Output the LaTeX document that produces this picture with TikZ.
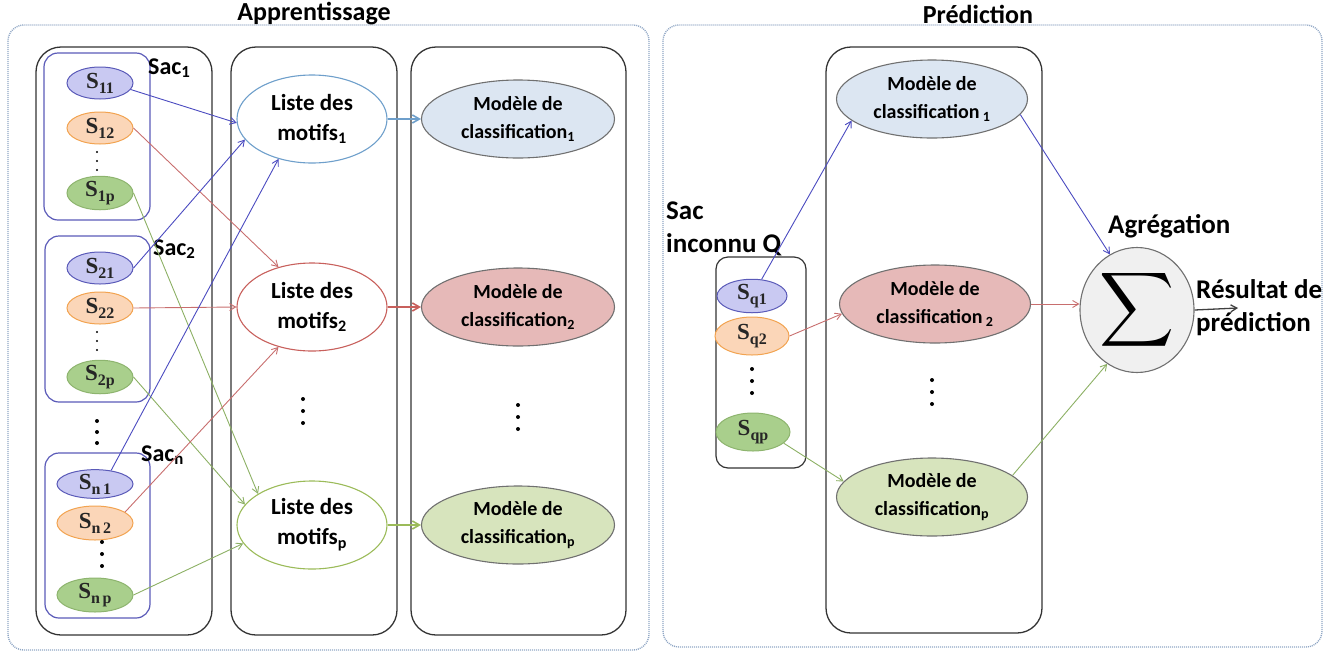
\documentclass[tikz,border=0pt]{standalone}
\usepackage{fontspec}
\setmainfont{Carlito}
\newfontfamily\serfont{Liberation Serif}
\usepackage{graphicx}
\usetikzlibrary{shapes.geometric,arrows.meta}
\definecolor{bfill}{HTML}{C9C9F2}
\definecolor{bdraw}{HTML}{5A5AB8}
\definecolor{ofill}{HTML}{FBD6B8}
\definecolor{odraw}{HTML}{F2A350}
\definecolor{gfill}{HTML}{A9CF8C}
\definecolor{gdraw}{HTML}{8DB46E}
\definecolor{barrow}{HTML}{4B4BC0}
\definecolor{rarrow}{HTML}{C86E6E}
\definecolor{garrow}{HTML}{8CB064}
\definecolor{lonedraw}{HTML}{6E9FCB}
\definecolor{ltwodraw}{HTML}{C8605C}
\definecolor{lpdraw}{HTML}{9BBB59}
\definecolor{monefill}{HTML}{DCE6F2}
\definecolor{mtwofill}{HTML}{E6B9B8}
\definecolor{mpfill}{HTML}{D7E4BD}
\definecolor{mdraw}{HTML}{707070}
\definecolor{dotc}{HTML}{8FA6C4}
\definecolor{coldraw}{HTML}{333333}
\newcommand\Ssub[1]{S\raisebox{-0.22em}{\fontsize{16}{16}\selectfont #1}}
\tikzset{
  sel/.style={ellipse, line width=1pt, inner sep=0pt, minimum width=66, minimum height=32,
    font=\serfont\bfseries\fontsize{23}{23}\selectfont, text=black!85},
  sb/.style={sel, draw=bdraw, fill=bfill},
  so/.style={sel, draw=odraw, fill=ofill},
  sg/.style={sel, draw=gdraw, fill=gfill},
  liste/.style={ellipse, line width=1.1pt, fill=white, inner sep=0pt, minimum width=150, minimum height=88,
    align=center, font=\bfseries\fontsize{23}{30}\selectfont},
  modele/.style={ellipse, line width=1.1pt, draw=mdraw, inner sep=0pt, minimum width=193, minimum height=78,
    align=center, font=\bfseries\fontsize{20}{28}\selectfont},
  col/.style={draw=coldraw, line width=1.3pt, rounded corners=25},
  bag/.style={draw=bdraw, line width=1.2pt, rounded corners=14},
  outer/.style={draw=dotc, dash pattern=on 1pt off 1pt, line width=1.4pt, rounded corners=16},
  lab/.style={font=\bfseries\fontsize{24}{29}\selectfont, inner sep=0pt},
  biglab/.style={font=\bfseries\fontsize{27}{33}\selectfont, inner sep=0pt, align=left},
  arr/.style={-{Straight Barb[length=6pt,width=7pt]}, line width=0.9pt},
  harr/.style={-{Straight Barb[length=7pt,width=8pt]}, line width=1.6pt},
}
\begin{document}
\begin{tikzpicture}[x=1pt,y=-1pt]
\useasboundingbox (0,0) rectangle (1344,654);
% outer frames
\draw[outer] (8,25) rectangle (649,650);
\draw[outer] (663,25) rectangle (1322,647);
\node[font=\bfseries\fontsize{26}{26}\selectfont] (tA) at (314,14) {Apprentissage};
\node[font=\bfseries\fontsize{26}{26}\selectfont] (tP) at (978,14) {Prédiction};
% columns
\draw[col] (36,47) rectangle (212,635);
\draw[col] (231,47) rectangle (397,635);
\draw[col] (411,47) rectangle (626,635);
\draw[col] (826,47) rectangle (1042,633);
% bags
\draw[bag] (44,53) rectangle (150,220);
\draw[bag] (45,236) rectangle (150,402);
\draw[bag] (45,453) rectangle (150,618);
\draw[col, rounded corners=12, line width=1.2pt] (716,257) rectangle (806,468);
% S nodes
\node[sb] (s11) at (100,83) {\Ssub{11}};
\node[so] (s12) at (100,128) {\Ssub{12}};
\node[sg] (s1p) at (100,193) {\Ssub{1p}};
\node[sb] (s21) at (100,268) {\Ssub{21}};
\node[so] (s22) at (100,308) {\Ssub{22}};
\node[sg] (s2p) at (100,377) {\Ssub{2p}};
\node[sb, minimum width=76, minimum height=24] (sn1) at (95,484) {\Ssub{n\,1}};
\node[so, minimum width=76, minimum height=34] (sn2) at (95,523) {\Ssub{n\,2}};
\node[sg, minimum width=76, minimum height=34] (snp) at (95,595) {\Ssub{n\,p}};
% dots
\foreach \y in {152,161,170} \fill (97,\y) circle (1.2);
\foreach \y in {332,341,350} \fill (97,\y) circle (1.2);
\foreach \y in {421,432,443} \fill (97,\y) circle (2);
\foreach \y in {542,554,566} \fill (102,\y) circle (2);
\foreach \y in {399,411,423} \fill (303,\y) circle (2);
\foreach \y in {405,417,429} \fill (518,\y) circle (2);
\foreach \y in {369,381,393} \fill (752,\y) circle (2);
\foreach \y in {380,392,404} \fill (932,\y) circle (2);
% sac labels
\node[lab, anchor=west] (sac1) at (148,68) {Sac\textsubscript{1}};
\node[lab, anchor=west] (sac2) at (153,249) {Sac\textsubscript{2}};
\node[lab, anchor=west] (sacn) at (141,455) {Sac\textsubscript{n}};
% liste nodes
\node[liste, draw=lonedraw] (l1) at (312,119) {Liste des\\motifs\textsubscript{1}};
\node[liste, draw=ltwodraw] (l2) at (312,307) {Liste des\\motifs\textsubscript{2}};
\node[liste, draw=lpdraw] (lp) at (312,525) {Liste des\\motifs\textsubscript{p}};
% modele nodes
\node[modele, fill=monefill] (m1) at (518,119) {Modèle de\\classification\textsubscript{1}};
\node[modele, fill=mtwofill] (m2) at (518,307) {Modèle de\\classification\textsubscript{2}};
\node[modele, fill=mpfill] (mp) at (518,525) {Modèle de\\classification\textsubscript{p}};
% left arrows
\draw[arr, barrow] (s11.-12) -- (l1.183);
\draw[arr, rarrow] (s12.east) -- (l2.130);
\draw[arr, garrow] (s1p.east) -- (lp.150);
\draw[arr, barrow] (s21.east) -- (l1.197);
\draw[arr, rarrow] (s22.east) -- (l2.west);
\draw[arr, garrow] (s2p.east) -- (lp.163);
\draw[arr, barrow] (sn1.40) -- (l1.230);
\draw[arr, rarrow] (sn2.20) -- (l2.230);
\draw[arr, garrow] (snp.east) -- (lp.195);
\draw[harr, lonedraw] (l1.east) -- (m1.west);
\draw[harr, ltwodraw] (l2.east) -- (m2.west);
\draw[harr, lpdraw] (lp.east) -- (mp.west);
% right panel
\node[biglab, anchor=west] (sacq) at (666,229) {Sac\\inconnu Q};
\node[sb, minimum width=70, minimum height=32] (sq1) at (752,296) {\Ssub{q1}};
\node[so, minimum width=74, minimum height=38] (sq2) at (752,336) {\Ssub{q2}};
\node[sg, minimum width=74, minimum height=38] (sqp) at (753,432) {\Ssub{qp}};
\node[modele, minimum width=191, fill=monefill] (r1) at (932,99) {Modèle de\\classification\,\textsubscript{1}};
\node[modele, minimum width=191, fill=mtwofill] (r2) at (935,304) {Modèle de\\classification\,\textsubscript{2}};
\node[modele, minimum width=191, fill=mpfill] (rp) at (932,497) {Modèle de\\classification\textsubscript{p}};
\node[ellipse, draw=mdraw, fill=gray!12, line width=1.1pt, minimum width=114, minimum height=125, inner sep=0pt] (sig) at (1137,310) {};
\node[inner sep=0pt] (sigsym) at (sig.center) {\scalebox{5.2}{$\displaystyle\sum$}};
\node[biglab, anchor=west] (agg) at (1108,226) {Agrégation};
\node[biglab, anchor=west] (res) at (1196,308) {Résultat de\\prédiction};
\coordinate (out) at (1238,308);
\draw[arr, barrow] (sq1.60) -- (r1.195);
\draw[arr, rarrow] (sq2.east) -- (r2.186);
\draw[arr, garrow] (sqp.-20) -- (rp.170);
\draw[arr, barrow] (r1.-10) -- (sig.116);
\draw[arr, rarrow] (r2.east) -- (r2.east -| sig.west);
\draw[arr, garrow] (rp.15) -- (sig.241);
\draw[arr, black!75, line width=1.3pt] (sig.east) -- (out);
\end{tikzpicture}
\end{document}
